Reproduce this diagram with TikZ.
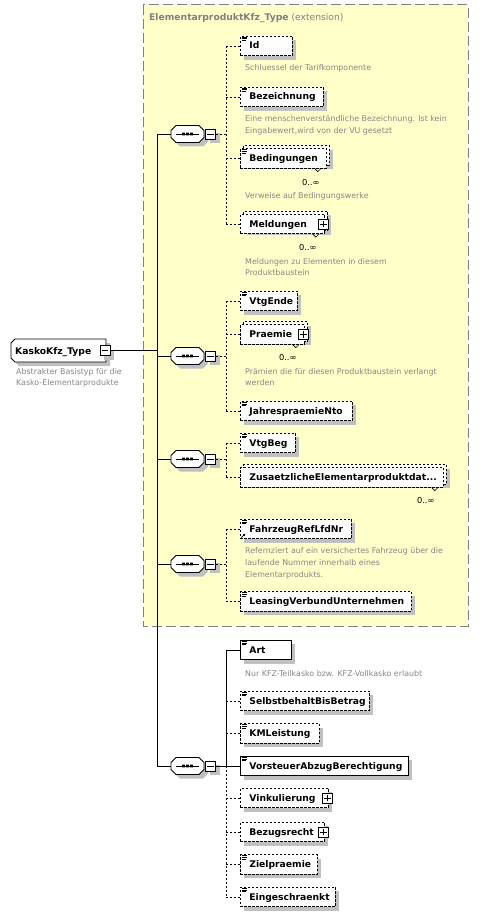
\documentclass[tikz,border=0pt]{standalone}
\usepackage{fontspec}
\setmainfont{DejaVu Sans}
\usetikzlibrary{shadows,arrows.meta}
\definecolor{ylw}{RGB}{255,255,202}
\definecolor{bordergray}{RGB}{128,128,128}
\definecolor{shgray}{RGB}{192,192,192}
\definecolor{descgray}{RGB}{135,135,135}
\tikzset{
  lbl/.style={font=\fontsize{9.2}{11}\selectfont\bfseries},
  desc/.style={font=\fontsize{7.9}{11.5}\selectfont, text=descgray, anchor=base west, inner sep=0pt, align=left},
  occ/.style={font=\fontsize{8.3}{10}\selectfont, inner sep=0pt},
  edash/.style={dash pattern=on 2.4pt off 1.6pt},
  shd/.style={drop shadow={shadow xshift=4pt,shadow yshift=-4pt,fill=shgray,opacity=1}},
  ebase/.style={anchor=west, fill=white, draw=black, line width=0.8pt, inner xsep=0pt, inner ysep=0pt,
    minimum height=19.5pt, minimum width=#1, text width=#1, align=left, text height=7.5pt, text depth=1.5pt,
    lbl, execute at begin node={\hspace*{9pt}}},
  eopt/.style={ebase=#1, edash, shd},
  ereq/.style={ebase=#1, solid, shd},
  efront/.style={ebase=#1, edash},
  sqbox/.style={draw=black, solid, fill=white, minimum size=10pt, inner sep=0pt, line width=0.8pt},
  dcon/.style={draw=black, line width=0.8pt, dash pattern=on 2.4pt off 1.6pt},
  scon/.style={draw=black, line width=0.8pt},
}
\newcommand\eicon[1]{\draw[line width=0.7pt] ([xshift=1.5pt,yshift=-1.4pt]#1.north west) -- ++(5.5,0)
  ([xshift=1.5pt,yshift=-3pt]#1.north west) -- ++(5.5,0) ([xshift=1.5pt,yshift=-4.6pt]#1.north west) -- ++(4.5,0);}
\newcommand\plusbox[2]{\node[sqbox] (#1) at ([xshift=-1pt]#2.east) {};
  \draw[line width=0.8pt] ([xshift=2pt]#1.west) -- ([xshift=-2pt]#1.east) ([yshift=-2pt]#1.north) -- ([yshift=2pt]#1.south);}
\newcommand\minusbox[2]{\node[sqbox, shd] (#1) at #2 {};
  \draw[line width=0.8pt] ([xshift=2pt]#1.west) -- ([xshift=-2pt]#1.east);}
\newcommand\notch[1]{\draw[line width=0.6pt] ([xshift=-12pt]#1.south east) -- ([xshift=-9pt,yshift=-3pt]#1.south east) -- ([xshift=-6pt]#1.south east);}
\newcommand\seqcomp[2]{%
  \node[inner sep=0pt, minimum width=33pt, minimum height=17pt] (#1) at (187.5,#2) {};
  \fill[shgray, shift={(191.5,{#2+4})}] (-11.5,-8.5) -- (11.5,-8.5) -- (16.5,-3.5) -- (16.5,3.5) -- (11.5,8.5) -- (-11.5,8.5) -- (-16.5,3.5) -- (-16.5,-3.5) -- cycle;
  \draw[fill=white, line width=0.8pt, shift={(187.5,#2)}] (-11.5,-8.5) -- (11.5,-8.5) -- (16.5,-3.5) -- (16.5,3.5) -- (11.5,8.5) -- (-11.5,8.5) -- (-16.5,3.5) -- (-16.5,-3.5) -- cycle;
  \draw[line width=0.8pt] (176,#2) -- (199,#2);
  \fill (182.2,{#2-1.3}) rectangle ++(2.6,2.6) (186.2,{#2-1.3}) rectangle ++(2.6,2.6) (190.2,{#2-1.3}) rectangle ++(2.6,2.6);
  \minusbox{#1m}{(210.5,#2)}}
\begin{document}
\begin{tikzpicture}[x=1pt,y=-1pt]
\useasboundingbox (0,0) rectangle (479,917);
\fill[white] (0,0) rectangle (479,917);
% extension container
\draw[draw=bordergray, line width=1pt, dash pattern=on 10pt off 4pt, fill=ylw] (143,5) rectangle (468,626);
\node[anchor=base west, inner sep=0pt, text=bordergray, font=\fontsize{9.2}{11}\selectfont] (title) at (149,20.5) {\textbf{ElementarproduktKfz\_Type} (extension)};

% main element
\node[inner sep=0pt, minimum width=95pt, minimum height=23pt] (main) at (58.5,350.5) {};
\fill[shgray, shift={(4,4)}] (15,339) -- (106,339) -- (106,362) -- (15,362) -- (11,358) -- (11,343) -- cycle;
\draw[fill=white, line width=0.8pt] (15,339) -- (106,339) -- (106,362) -- (15,362) -- (11,358) -- (11,343) -- cycle;
\node[lbl, anchor=base west, inner sep=0pt] (mainl) at (15,354) {KaskoKfz\_Type};
\minusbox{mainm}{(105,350.5)}
\node[desc] (maind) at (16,385.5) {Abstrakter Basistyp für die\\Kasko-Elementarprodukte};

% compositors
\seqcomp{c1}{134}
\seqcomp{c2}{356}
\seqcomp{c3}{459}
\seqcomp{c4}{564}
\seqcomp{c5}{766}

\coordinate (trk) at (157,0);
\draw[scon] (mainm.east) -- (mainm.east -| trk);
\draw[scon] (c1.west -| trk) -- (c5.west -| trk);
\foreach \c in {c1,c2,c3,c4,c5} {\draw[scon] (\c.west -| trk) -- (\c.west);}

\coordinate (ct) at (226,0);

% ---- sequence 1
\node[eopt=52pt] (id) at (240,46) {Id}; \eicon{id}
\node[desc] (idd) at (245,71) {Schluessel der Tarifkomponente};
\node[eopt=83pt] (bez) at (240,97) {Bezeichnung}; \eicon{bez}
\node[desc] (bezd) at (245,133.5) {Eine menschenverständliche Bezeichnung. Ist kein\\Eingabewert,wird von der VU gesetzt};
\node[eopt=86pt] (bedb) at (243,155.5) {};
\node[efront=86pt] (bed) at (240,158.5) {Bedingungen}; \eicon{bed} \notch{bed}
\node[occ] (bedo) at ([xshift=-16pt,yshift=-13.5pt]bed.south east) {0..∞};
\node[desc] (bedd) at (245,199) {Verweise auf Bedingungswerke};
\node[eopt=84pt] (meldb) at (243,221) {};
\node[efront=84pt] (meld) at (240,224) {Meldungen}; \plusbox{meldp}{meld} \notch{meld}
\node[occ] (meldo) at ([xshift=-17pt,yshift=-13pt]meld.south east) {0..∞};
\node[desc] (meldd) at (245,275.5) {Meldungen zu Elementen in diesem\\Produktbaustein};
\draw[dcon] (c1m.east) -- (c1m.east -| ct);
\draw[dcon] (id.west -| ct) -- (meld.west -| ct);
\foreach \e in {id,bez,bed,meld} {\draw[dcon] (\e.west -| ct) -- (\e.west);}

% ---- sequence 2
\node[eopt=57pt] (vte) at (240,301) {VtgEnde}; \eicon{vte}
\node[eopt=64pt] (praeb) at (243,331.5) {};
\node[efront=64pt] (prae) at (240,334.5) {Praemie}; \plusbox{praep}{prae} \notch{prae}
\node[occ] (praeo) at ([xshift=-17pt,yshift=-12.5pt]prae.south east) {0..∞};
\node[desc] (praed) at (245,385.5) {Prämien die für diesen Produktbaustein verlangt\\werden};
\node[eopt=112pt] (jpn) at (240,411) {JahrespraemieNto}; \eicon{jpn}
\draw[dcon] (c2m.east) -- (c2m.east -| ct);
\draw[dcon] (vte.west -| ct) -- (jpn.west -| ct);
\foreach \e in {vte,prae,jpn} {\draw[dcon] (\e.west -| ct) -- (\e.west);}

% ---- sequence 3
\node[eopt=55pt] (vtb) at (240,443) {VtgBeg}; \eicon{vtb}
\node[eopt=203pt] (zusb) at (243,474.5) {};
\node[efront=203pt] (zus) at (240,477.5) {ZusaetzlicheElementarproduktdat...}; \notch{zus}
\node[occ] (zuso) at ([xshift=-18pt,yshift=-13pt]zus.south east) {0..∞};
\draw[dcon] (c3m.east) -- (c3m.east -| ct);
\draw[dcon] (vtb.west -| ct) -- (zus.west -| ct);
\foreach \e in {vtb,zus} {\draw[dcon] (\e.west -| ct) -- (\e.west);}

% ---- sequence 4
\node[eopt=111pt] (fzr) at (240,529) {FahrzeugRefLfdNr}; \eicon{fzr}
\draw[line width=0.7pt, -{Latex[length=2.4pt,width=2.6pt]}] ([xshift=1.2pt,yshift=1.5pt]fzr.south west) -- ([xshift=5.5pt,yshift=5.5pt]fzr.south west);
\node[desc, font=\fontsize{7.9}{12}\selectfont] (fzrd) at (245,577) {Refernziert auf ein versichertes Fahrzeug über die\\laufende Nummer innerhalb eines\\Elementarprodukts.};
\node[eopt=171pt] (lvu) at (240,601.5) {LeasingVerbundUnternehmen}; \eicon{lvu}
\draw[dcon] (c4m.east) -- (c4m.east -| ct);
\draw[dcon] (fzr.west -| ct) -- (lvu.west -| ct);
\foreach \e in {fzr,lvu} {\draw[dcon] (\e.west -| ct) -- (\e.west);}

% ---- sequence 5
\node[ereq=51pt] (art) at (240,650) {Art}; \eicon{art}
\node[desc] (artd) at (245,676) {Nur KFZ-Teilkasko bzw. KFZ-Vollkasko erlaubt};
\node[eopt=129pt] (sbb) at (240,701) {SelbstbehaltBisBetrag}; \eicon{sbb}
\node[eopt=79pt] (kml) at (240,733.5) {KMLeistung}; \eicon{kml}
\node[ereq=168pt] (vab) at (240,766) {VorsteuerAbzugBerechtigung}; \eicon{vab}
\node[eopt=88pt] (vink) at (240,798) {Vinkulierung}; \plusbox{vinkp}{vink}
\node[eopt=84pt] (bzr) at (240,832) {Bezugsrecht}; \plusbox{bzrp}{bzr}
\node[eopt=77pt] (zpr) at (240,864.5) {Zielpraemie}; \eicon{zpr}
\node[eopt=95pt] (ein) at (240,897) {Eingeschraenkt}; \eicon{ein}
\draw[scon] (c5m.east) -- (c5m.east -| ct);
\draw[scon] (art.west -| ct) -- (vab.west -| ct);
\draw[dcon] (vab.west -| ct) -- (ein.west -| ct);
\foreach \e in {art,vab} {\draw[scon] (\e.west -| ct) -- (\e.west);}
\foreach \e in {sbb,kml,vink,bzr,zpr,ein} {\draw[dcon] (\e.west -| ct) -- (\e.west);}
\end{tikzpicture}
\end{document}
